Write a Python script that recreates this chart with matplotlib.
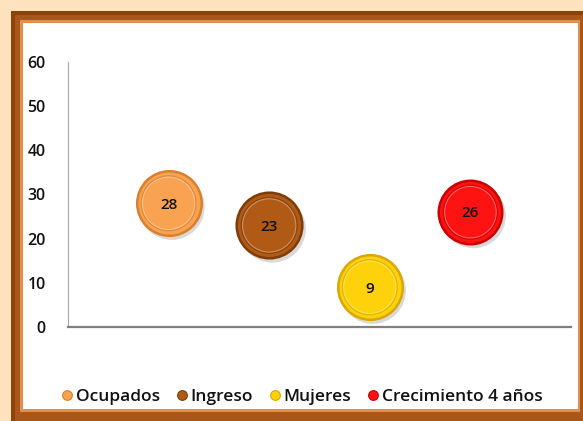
import numpy as np
import matplotlib.pyplot as plt
from matplotlib.patches import Rectangle
from matplotlib.lines import Line2D

# datos
series = ["Ocupados", "Ingreso", "Mujeres", "Crecimiento 4 años"]
pos_x = [1, 2, 3, 4]
valores = [28, 23, 9, 26]
burbuja = [30, 31, 30, 29]   # tamaño relativo de cada burbuja
colores = ["#F9A352", "#B05A16", "#FDD20A", "#FF1212"]
bordes = ["#D9802E", "#7E3C08", "#D8A800", "#C80000"]

plt.rcParams["font.family"] = ["Open Sans", "DejaVu Sans"]

fig = plt.figure(figsize=(5.83, 4.21), dpi=100)
W, H = 583, 421

def fx(px):
    return px / W

def fy(py):
    return 1 - py / H

# marco: resplandor, borde marrón y fondo blanco
fig.patch.set_facecolor("#FFE2BE")
fig.add_artist(Rectangle((fx(11), 0), 1, fy(11), transform=fig.transFigure,
                         facecolor="#8E420A", edgecolor="none", zorder=0))
fig.add_artist(Rectangle((fx(15), 0), 1, fy(15) - fy(421), transform=fig.transFigure,
                         facecolor="#A9561A", edgecolor="none", zorder=0))
fig.add_artist(Rectangle((fx(20), fy(412)), fx(580) - fx(20), fy(20) - fy(412),
                         transform=fig.transFigure,
                         facecolor="#E0904C", edgecolor="none", zorder=0))
fig.add_artist(Rectangle((fx(23), fy(409)), fx(578) - fx(23), fy(23) - fy(409),
                         transform=fig.transFigure,
                         facecolor="white", edgecolor="none", zorder=0))

ax = fig.add_axes([fx(68), fy(327), fx(571) - fx(68), fy(62) - fy(327)])
ax.set_facecolor("none")
ax.set_xlim(0, 5)
ax.set_ylim(0, 60)
ax.set_yticks(range(0, 61, 10))
ax.set_xticks([])
for s in ["top", "right"]:
    ax.spines[s].set_visible(False)
ax.spines["left"].set_color("#A8A8A8")
ax.spines["bottom"].set_color("#808080")
ax.spines["bottom"].set_linewidth(1.6)
ax.tick_params(axis="y", length=0, pad=16, labelsize=11.5, labelcolor="#111111")
for lab in ax.get_yticklabels():
    lab.set_fontweight("semibold")

esc = 72
for x, v, b, c, e in zip(pos_x, valores, burbuja, colores, bordes):
    s = b * esc
    # sombra
    ax.scatter([x + 0.03], [v - 0.8], s=s * 1.05, color="#000000", alpha=0.15,
               edgecolors="none", zorder=2)
    ax.scatter([x], [v], s=s, color=c, edgecolors=e, linewidths=1.8, zorder=3)
    ax.scatter([x], [v], s=s * 0.72, facecolors="none", edgecolors=e,
               linewidths=1.0, alpha=0.7, zorder=4)
    ax.scatter([x], [v], s=s * 0.66, facecolors="none", edgecolors="white",
               linewidths=0.8, alpha=0.35, zorder=4)
    ax.text(x, v - 0.3, str(v), ha="center", va="center", fontsize=11,
            fontweight="semibold", color="#111111", zorder=5)

manejadores = [Line2D([], [], marker="o", linestyle="none", markersize=7,
                      markerfacecolor=c, markeredgecolor=e, markeredgewidth=0.8)
               for c, e in zip(colores, bordes)]
leg = fig.legend(manejadores, series, loc="center", ncol=4,
                 bbox_to_anchor=(fx(301), fy(397)), frameon=False,
                 handletextpad=0.05, columnspacing=0.8, handlelength=0.9,
                 prop={"size": 12.5, "weight": "semibold"})
for t in leg.get_texts():
    t.set_color("#111111")

fig.savefig("out.png", dpi=100)
